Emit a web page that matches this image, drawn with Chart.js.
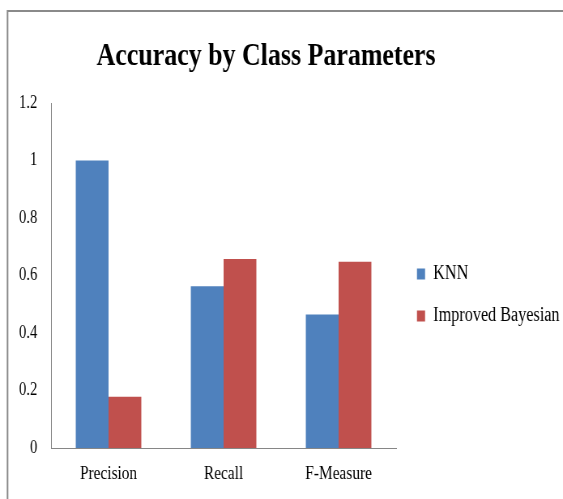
<!DOCTYPE html>
<html><head><meta charset="utf-8">
<script src="https://cdn.jsdelivr.net/npm/chart.js@4/dist/chart.umd.min.js"></script>
<style>
html,body{margin:0;padding:0;background:#fff;overflow:hidden}
#wrap{width:563px;height:499px;overflow:hidden;position:relative;background:#fff}
#c{position:absolute;left:0;top:0;transform:scaleX(0.81);transform-origin:0 0}
</style></head><body>
<div id="wrap"><canvas id="c" width="695" height="499"></canvas></div>
<script>
const categories = ['Precision', 'Recall', 'F-Measure'];
const knnValues = [1.0, 0.563, 0.464];
const bayesValues = [0.178, 0.657, 0.648];
const seriesNames = ['KNN', 'Improved Bayesian'];
const yTickValues = [0, 0.2, 0.4, 0.6, 0.8, 1, 1.2];
const titleText = 'Accuracy by Class Parameters';

const FONT = "'Liberation Serif', 'Times New Roman', serif";

const frame = {
  id: 'frame',
  afterLayout(chart) {
    // let the legend text run to the canvas edge instead of being clipped
    if (chart.legend) { chart.legend.right = chart.width; chart.legend.width = chart.width - chart.legend.left; }
  },
  beforeDraw(chart) {
    const ctx = chart.ctx;
    ctx.save();
    ctx.strokeStyle = '#8a8a8a';
    ctx.lineWidth = 2;
    ctx.beginPath();
    ctx.moveTo(9.3, chart.height + 2);
    ctx.lineTo(9.3, 11);
    ctx.lineTo(chart.width + 2, 11);
    ctx.stroke();
    ctx.restore();
  }
};

new Chart(document.getElementById('c'), {
  type: 'bar',
  data: {
    labels: categories,
    datasets: [
      { label: seriesNames[0], data: knnValues, backgroundColor: '#4F81BD', yAxisID: 'y' },
      { label: seriesNames[1], data: bayesValues, backgroundColor: '#C0504D', yAxisID: 'y' }
    ]
  },
  options: {
    responsive: false,
    animation: false,
    devicePixelRatio: 1,
    categoryPercentage: 0.57,
    barPercentage: 1.0,
    layout: { padding: { left: 0, right: 38, top: 0, bottom: 0 } },
    plugins: {
      title: {
        display: true,
        text: titleText,
        color: '#000',
        font: { family: FONT, size: 32, weight: 'bold', lineHeight: 1.2 },
        padding: { top: 38, bottom: 26.6 }
      },
      legend: {
        position: 'right',
        fullSize: false,
        title: { display: true, text: '', font: { size: 10, lineHeight: 1 }, padding: { top: 29, bottom: 0 } },
        labels: {
          boxWidth: 10, boxHeight: 11, padding: 22, color: '#000',
          font: { family: FONT, size: 20 }
        }
      },
      tooltip: { enabled: false }
    },
    scales: {
      x: {
        grid: { display: false },
        border: { display: true, color: '#868686', width: 1 },
        ticks: { color: '#000', font: { family: FONT, size: 19 }, padding: 6.6 },
        afterFit(s) { s.height = 51; }
      },
      y: {
        min: 0, max: 1.2,
        grid: { display: false },
        border: { display: true, color: '#868686', width: 1 },
        afterBuildTicks(s) { s.ticks = yTickValues.map(v => ({ value: v })); },
        ticks: {
          color: '#000', font: { family: FONT, size: 18 }, padding: 9,
          callback: v => String(Math.round(v * 10) / 10)
        },
        afterFit(s) { s.width = 63; }
      },
      yR: {
        position: 'right', display: false,
        afterFit(s) { s.width = 3.75; }
      }
    }
  },
  plugins: [frame]
});
</script>
</body></html>
